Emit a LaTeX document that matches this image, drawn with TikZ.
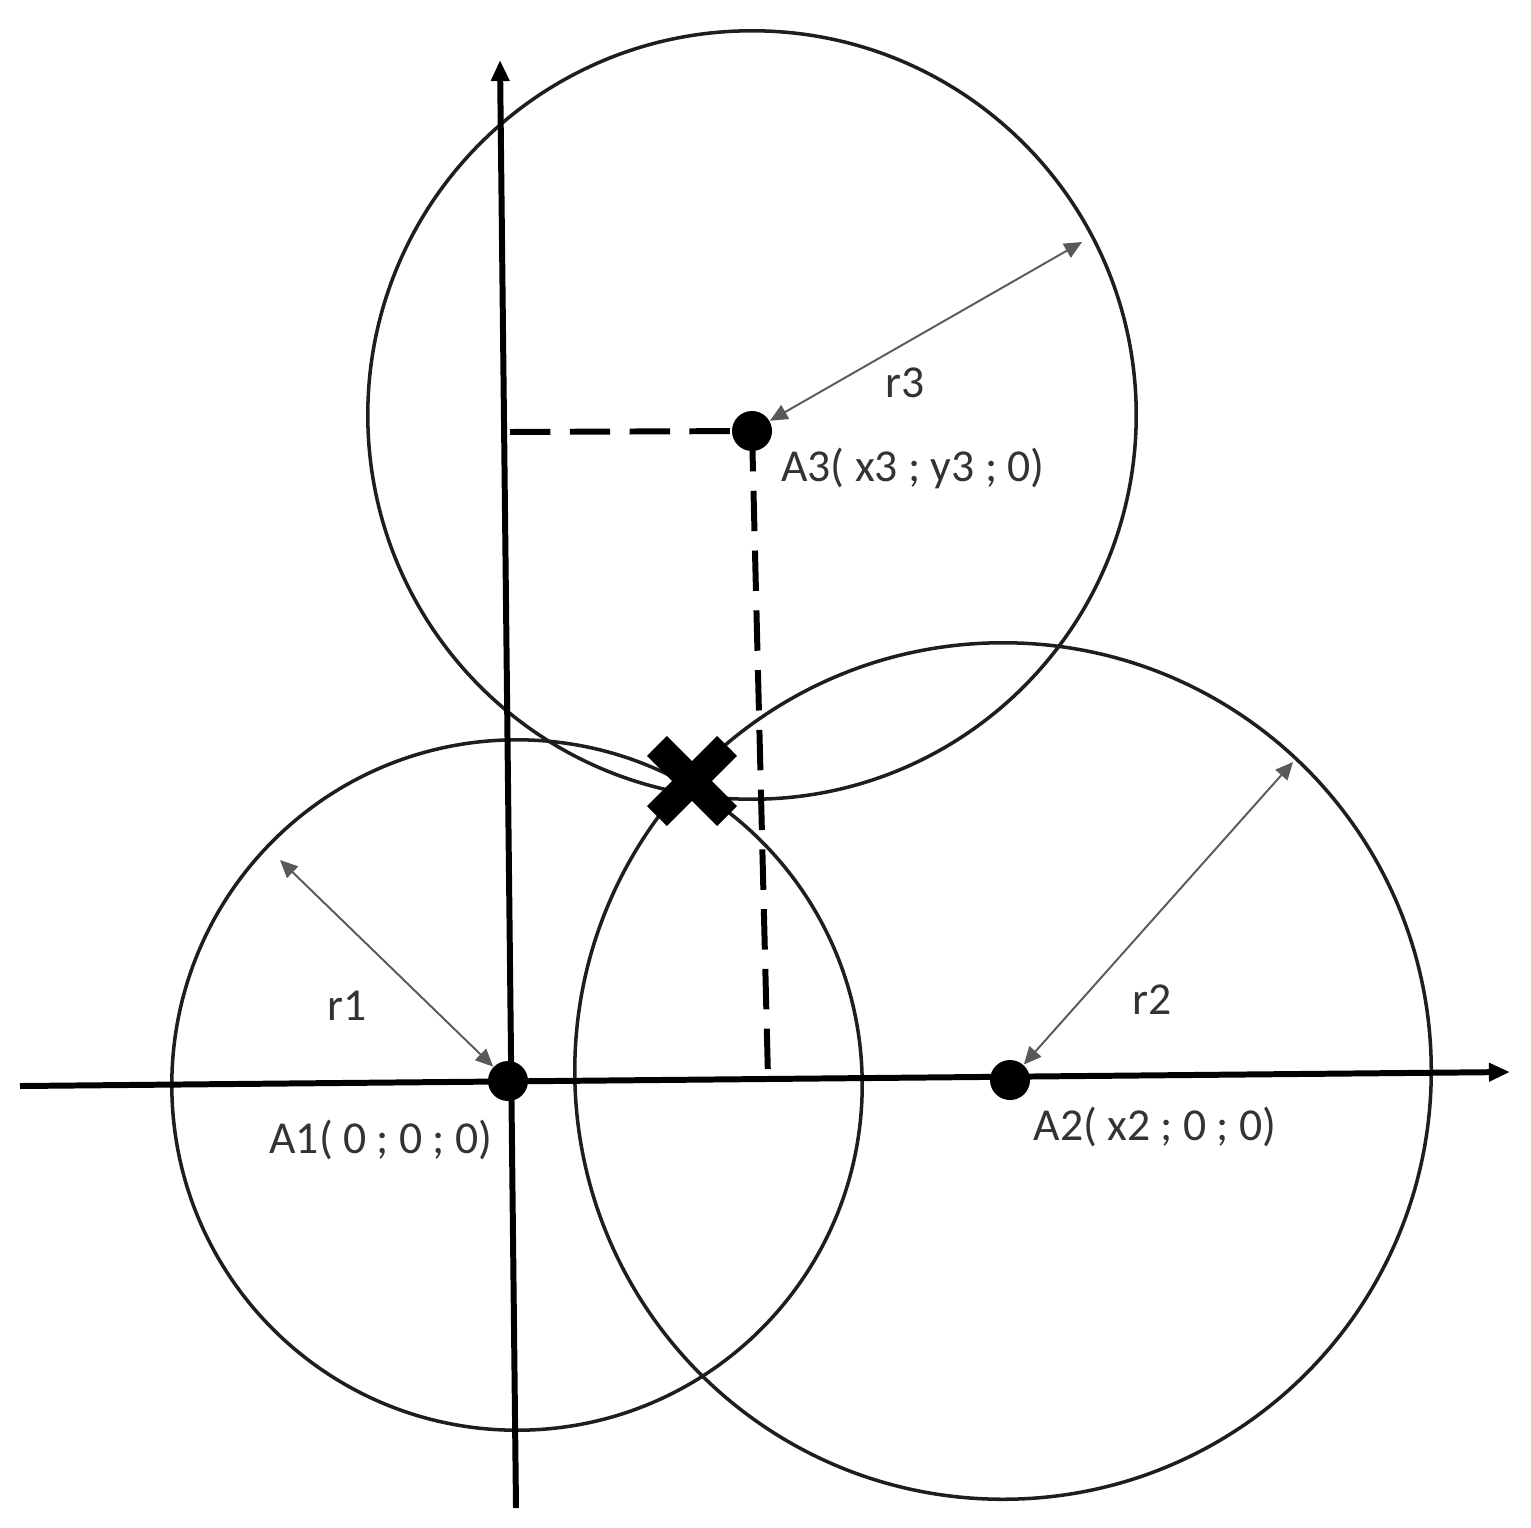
\documentclass[tikz,border=0pt]{standalone}
\usepackage{fontspec}
\setmainfont{Carlito}
\usetikzlibrary{arrows.meta,shapes.misc}
\definecolor{txt}{HTML}{333333}
\definecolor{ring}{HTML}{1E1E1E}
\begin{document}
\begin{tikzpicture}[x=0.01cm,y=-0.01cm,
  ringline/.style={draw=ring,line width=1pt},
  axisline/.style={draw=black,line width=1.7pt,-{Triangle[length=6pt,width=5pt]}},
  dashline/.style={draw=black,line width=1.7pt,dash pattern=on 11.5pt off 5.5pt},
  radarrow/.style={draw=black!65,line width=0.55pt,{Triangle[length=5pt,width=4.5pt]}-{Triangle[length=5pt,width=4.5pt]}},
  dot/.style={circle,fill=black,inner sep=0pt,minimum size=0.4cm},
  lbl/.style={text=txt,font=\fontsize{13}{15}\selectfont,inner sep=0pt}]
\useasboundingbox (0,0) rectangle (1531,1527);
% circles
\draw[ringline] (517,1085) circle[radius=3.45cm];
\draw[ringline] (1003,1071) circle[radius=4.28cm];
\draw[ringline] (752,415) circle[radius=3.84cm];
% axes
\coordinate (xs) at (20,1086);
\coordinate (xe) at (1510,1072);
\coordinate (ys) at (516,1508);
\coordinate (ye) at (500,60);
\draw[axisline] (xs) -- (xe);
\draw[axisline] (ys) -- (ye);
% points
\node[dot] (A1) at (508,1081) {};
\node[dot] (A2) at (1010,1080) {};
\node[dot] (A3) at (752,431) {};
% dashed projections
\coordinate (py) at (510,432);
\coordinate (px) at (768,1078);
\draw[dashline] (py) -- (A3.center);
\draw[dashline] (A3.center) -- (px);
% intersection marker
\node[cross out,draw=black,line width=8pt,minimum size=0.42cm,inner sep=0pt] (X) at (692,781) {};
% radius arrows
\coordinate (r1e) at (280,860);
\coordinate (r2e) at (1293,762);
\coordinate (r3e) at (1082,242);
\draw[radarrow] (r1e) -- (A1);
\draw[radarrow] (r2e) -- (A2);
\draw[radarrow] (r3e) -- (A3);
% labels
\node[lbl] (L1) at (381,1140) {A1( 0 ; 0 ; 0)};
\node[lbl] (L2) at (1155,1127) {A2( x2 ; 0 ; 0)};
\node[lbl] (L3) at (913,468) {A3( x3 ; y3 ; 0)};
\node[lbl] (R1) at (347,1006) {r1};
\node[lbl] (R2) at (1152,1000) {r2};
\node[lbl] (R3) at (905,383) {r3};
\end{tikzpicture}
\end{document}
